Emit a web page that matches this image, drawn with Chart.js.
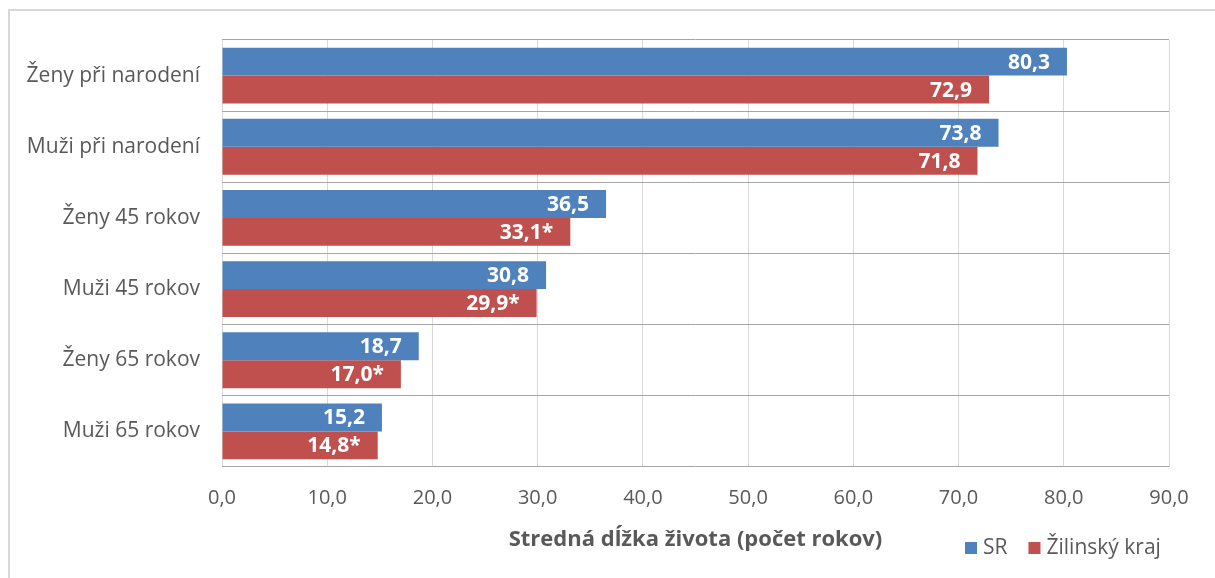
<!DOCTYPE html>
<html>
<head>
<meta charset="utf-8">
<script src="https://cdn.jsdelivr.net/npm/chart.js@4.4.0/dist/chart.umd.min.js"></script>
<style>
  html, body { margin: 0; padding: 0; background: #fff; }
  #wrap { position: relative; width: 1215px; height: 578px; }
  #frame { position: absolute; left: 8px; top: 9px; right: -5px; bottom: -5px; border-left: 2px solid #D9D9D9; border-top: 2px solid #D9D9D9; pointer-events: none; }
  canvas { position: absolute; left: 0; top: 0; }
</style>
</head>
<body>
<div id="wrap">
  <canvas id="c" width="1215" height="578"></canvas>
  <div id="frame"></div>
</div>
<script>
const categories = ["Ženy při narodení", "Muži při narodení", "Ženy 45 rokov", "Muži 45 rokov", "Ženy 65 rokov", "Muži 65 rokov"];
const seriesNames = ["SR", "Žilinský kraj"];
const srValues = [80.3, 73.8, 36.5, 30.8, 18.7, 15.2];
const zilinaValues = [72.9, 71.8, 33.1, 29.9, 17.0, 14.8];
const zilinaStar = [false, false, true, true, true, true];
const xTicks = [0, 10, 20, 30, 40, 50, 60, 70, 80, 90];
const axisTitle = "Stredná dĺžka života (počet rokov)";

const FONT = "'Open Sans', sans-serif";
const BLUE = "#4F81BD";
const RED = "#C0504D";
const TXT = "#595959";

function fmt(v) { return v.toFixed(1).replace(".", ","); }

const labelPlugin = {
  id: "barLabels",
  afterDatasetsDraw(chart) {
    const ctx = chart.ctx;
    ctx.save();
    ctx.font = "bold 21px " + FONT;
    ctx.fillStyle = "#FFFFFF";
    ctx.textAlign = "right";
    ctx.textBaseline = "middle";
    chart.data.datasets.forEach((ds, di) => {
      const meta = chart.getDatasetMeta(di);
      meta.data.forEach((bar, i) => {
        let t = fmt(ds.data[i]);
        if (di === 1 && zilinaStar[i]) t += "*";
        ctx.fillText(t, bar.x - 17, bar.y + 1);
      });
    });
    ctx.restore();
  }
};

const extrasPlugin = {
  id: "extras",
  afterDraw(chart) {
    const ctx = chart.ctx;
    const a = chart.chartArea;
    ctx.save();
    ctx.font = "bold 22px " + FONT;
    ctx.fillStyle = TXT;
    ctx.textAlign = "center";
    ctx.textBaseline = "middle";
    ctx.fillText(axisTitle, (a.left + a.right) / 2, 540);
    ctx.font = "21px " + FONT;
    ctx.textAlign = "left";
    let x = 965;
    const y = 548;
    const colors = [BLUE, RED];
    seriesNames.forEach((n, i) => {
      ctx.fillStyle = colors[i];
      ctx.fillRect(x, y - 6, 12, 12);
      ctx.fillStyle = TXT;
      ctx.fillText(n, x + 18, y);
      x += 18 + ctx.measureText(n).width + 21;
    });
    ctx.restore();
  }
};

new Chart(document.getElementById("c"), {
  type: "bar",
  data: {
    labels: categories,
    datasets: [
      { label: seriesNames[0], data: srValues, backgroundColor: BLUE, borderWidth: 0,
        categoryPercentage: 0.785, barPercentage: 1.0 },
      { label: seriesNames[1], data: zilinaValues, backgroundColor: RED, borderWidth: 0,
        categoryPercentage: 0.785, barPercentage: 1.0 }
    ]
  },
  options: {
    indexAxis: "y",
    responsive: false,
    animation: false,
    devicePixelRatio: 1,
    layout: { padding: { left: 0, top: 40, right: 46, bottom: 0 } },
    plugins: { legend: { display: false }, tooltip: { enabled: false } },
    scales: {
      x: {
        type: "linear",
        min: 0, max: 90,
        afterBuildTicks(scale) { scale.ticks = xTicks.map(v => ({ value: v })); },
        afterFit(scale) { scale.height = 111; },
        grid: { color: "#D9D9D9", lineWidth: 1, drawTicks: false },
        border: { display: false },
        ticks: {
          padding: 19,
          color: TXT,
          font: { family: FONT, size: 20 },
          callback: (v) => fmt(v)
        }
      },
      y: {
        type: "category",
        afterFit(scale) { scale.width = 222; },
        grid: { offset: true, color: "#A6A6A6", lineWidth: 1, drawTicks: false },
        border: { display: false },
        ticks: {
          padding: 22,
          color: TXT,
          font: { family: FONT, size: 21 }
        }
      }
    }
  },
  plugins: [labelPlugin, extrasPlugin]
});
</script>
</body>
</html>
